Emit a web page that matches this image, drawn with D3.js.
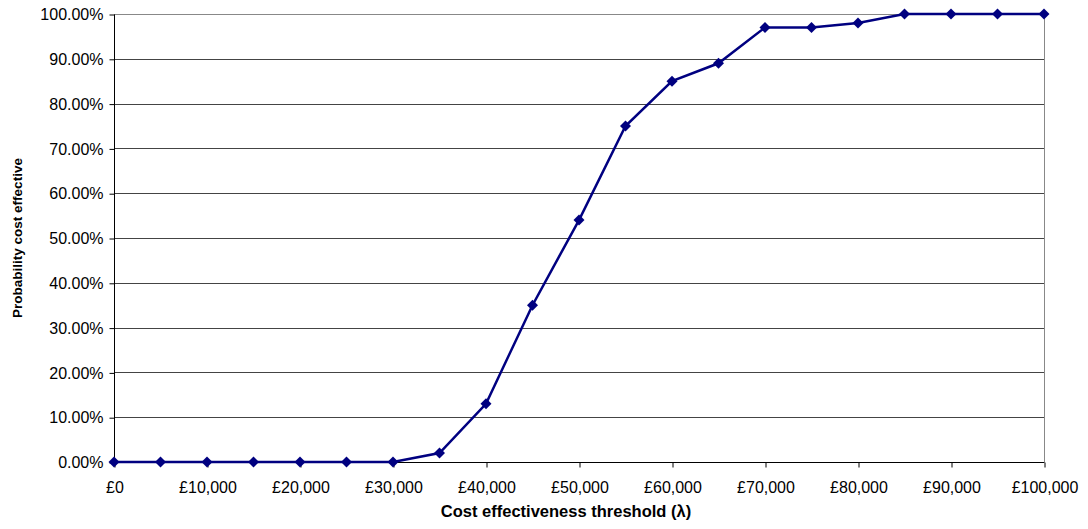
<!DOCTYPE html>
<html>
<head>
<meta charset="utf-8">
<script src="https://cdn.jsdelivr.net/npm/d3@7"></script>
<style>
body{margin:0;background:#fff;}
text{font-family:"Liberation Sans",Arial,sans-serif;fill:#000;}
</style>
</head>
<body>
<div id="chart"></div>
<script>
var thresholds=[0,5000,10000,15000,20000,25000,30000,35000,40000,45000,50000,55000,60000,65000,70000,75000,80000,85000,90000,95000,100000];
var probs=[0,0,0,0,0,0,0,0.02,0.13,0.35,0.54,0.75,0.85,0.89,0.97,0.97,0.98,1,1,1,1];
var xTicks=[0,10000,20000,30000,40000,50000,60000,70000,80000,90000,100000];
var yTicks=[0,0.1,0.2,0.3,0.4,0.5,0.6,0.7,0.8,0.9,1];

var width=1088,height=529;
var pLeft=114,pRight=1044,pTop=14,pBottom=462;

var svg=d3.select('#chart').append('svg')
    .attr('width',width)
    .attr('height',height);

var x=d3.scaleLinear().domain([0,100000]).range([pLeft,pRight]);
var y=d3.scaleLinear().domain([0,1]).range([pBottom,pTop]);

//grid
svg.selectAll('.grid').data(yTicks)
    .enter().append('line')
    .attr('x1',pLeft).attr('x2',pRight)
    .attr('y1',function(d){return Math.round(y(d))+0.5;})
    .attr('y2',function(d){return Math.round(y(d))+0.5;})
    .style('stroke',function(d){return d==1?'#888':'#444';})
    .style('stroke-width',1);

//right border
svg.append('line')
    .attr('x1',pRight+0.5).attr('x2',pRight+0.5)
    .attr('y1',pTop).attr('y2',pBottom)
    .style('stroke','#888');

//axes
var yAxis=d3.axisLeft(y).tickValues(yTicks).tickSize(5).tickPadding(6)
    .tickFormat(function(d){return (d*100).toFixed(2)+'%';});
var gy=svg.append('g').attr('transform','translate('+(pLeft+0.5)+',0.5)').call(yAxis);

var xAxis=d3.axisBottom(x).tickValues(xTicks).tickSize(5).tickPadding(14)
    .tickFormat(function(d){return '£'+d3.format(',')(d);});
var gx=svg.append('g').attr('transform','translate(0.5,'+(pBottom+0.5)+')').call(xAxis);

[gx,gy].forEach(function(g){
    g.attr('font-size',null).attr('font-family',null);
    g.selectAll('line').style('stroke','#000');
    g.selectAll('text').style('font-size','16px');
});
gx.select('path').attr('d','M'+pLeft+',0H'+pRight).style('stroke','#000');
gy.select('path').attr('d','M0,'+pTop+'V'+pBottom).style('stroke','#000');

//line
var line=d3.line()
    .x(function(d,i){return x(thresholds[i]);})
    .y(function(d){return y(d);});
svg.append('path')
    .datum(probs)
    .attr('d',line)
    .style('fill','none')
    .style('stroke','#000080')
    .style('stroke-width',2.5);

svg.selectAll('.pt').data(probs)
    .enter().append('path')
    .attr('d',d3.symbol().type(d3.symbolSquare).size(60))
    .attr('transform',function(d,i){return 'translate('+x(thresholds[i])+','+y(d)+') rotate(45)';})
    .style('fill','#000080');

//titles
svg.append('text')
    .attr('x',566).attr('y',517)
    .attr('text-anchor','middle')
    .style('font-size','16.5px').style('font-weight','bold')
    .text('Cost effectiveness threshold (λ)');

svg.append('text')
    .attr('transform','translate(22,'+((pTop+pBottom)/2)+') rotate(-90)')
    .attr('text-anchor','middle')
    .style('font-size','13.5px').style('font-weight','bold')
    .text('Probability cost effective');
</script>
</body>
</html>
